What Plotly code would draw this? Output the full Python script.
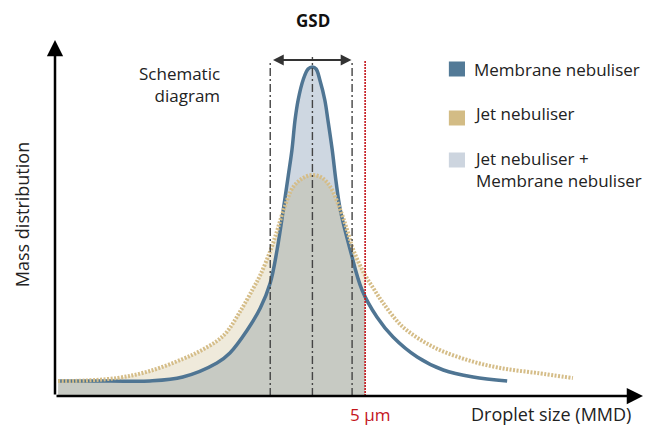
import plotly.graph_objects as go

# ---- data (x in µm, y in arbitrary mass-distribution units) ----
membrane_x = [0.05, 0.89, 1.53, 2.06, 2.61, 2.82, 3.10, 3.31, 3.47, 3.58, 3.68, 3.76, 3.82, 3.87,
              3.92, 4.00, 4.08, 4.15, 4.21, 4.27, 4.35, 4.40, 4.47, 4.53, 4.60, 4.76, 4.95, 5.19,
              5.45, 5.84, 6.26, 6.74, 7.29]
membrane_y = [15, 15, 15, 19, 33, 43, 66, 88, 113, 146, 186, 220, 246, 276,
              296, 316, 327, 329, 327, 316, 296, 276, 246, 215, 186, 146, 106, 79,
              59, 39, 26, 19, 15]

jet_x = [0.05, 0.29, 1.00, 1.53, 2.06, 2.34, 2.61, 2.77, 2.98, 3.19, 3.31, 3.47, 3.58, 3.68,
         3.84, 4.00, 4.16, 4.31, 4.44, 4.60, 4.71, 4.81, 4.98, 5.13, 5.29, 5.61, 6.10, 6.65,
         7.18, 7.77, 8.35]
jet_y = [15, 15, 18, 25, 37, 45, 55, 64, 84, 107, 121, 145, 165, 185,
         209, 218, 221, 218, 209, 186, 166, 146, 123, 108, 93, 69, 49, 36,
         28, 23, 18]

gsd_lines = [3.47, 4.15, 4.79]
limit_um = 5.0
x_max = 9.48
y_max = 356

legend_labels = ["Membrane nebuliser", "Jet nebuliser", "Jet nebuliser +<br>Membrane nebuliser"]
legend_colors = ["#537a97", "#d3bc85", "#cdd5df"]

FONT = "Open Sans"
TXT = "#222222"
FS = 17
SMOOTH = 1.0

fig = go.Figure()

# fills
fig.add_trace(go.Scatter(x=membrane_x, y=membrane_y, mode="none", fill="tozeroy",
                         fillcolor="#ced7e1", line=dict(shape="spline", smoothing=SMOOTH),
                         hoverinfo="skip"))
fig.add_trace(go.Scatter(x=jet_x, y=jet_y, mode="none", fill="tozeroy",
                         fillcolor="rgba(175,150,75,0.2)", line=dict(shape="spline", smoothing=SMOOTH),
                         hoverinfo="skip"))
# white mask: shading only up to the 5 µm limit
fig.add_trace(go.Scatter(x=[limit_um, x_max, x_max, limit_um], y=[0, 0, y_max, y_max],
                         mode="none", fill="toself", fillcolor="white", hoverinfo="skip"))
# lines
fig.add_trace(go.Scatter(x=membrane_x, y=membrane_y, mode="lines",
                         line=dict(color="#4f7593", width=3.5, shape="spline", smoothing=SMOOTH),
                         hoverinfo="skip"))
fig.add_trace(go.Scatter(x=jet_x, y=jet_y, mode="lines",
                         line=dict(color="#d5bd88", width=4, shape="spline", smoothing=SMOOTH,
                                   dash="2px,1.5px"),
                         hoverinfo="skip"))

shapes = []
tops = [336, 339, 336]
for gx, top in zip(gsd_lines, tops):
    shapes.append(dict(type="line", xref="x", yref="y", x0=gx, x1=gx, y0=0, y1=top,
                       line=dict(color="#444444", width=1.4, dash="8px,3px,2px,3px"), layer="above"))
shapes.append(dict(type="line", xref="x", yref="y", x0=limit_um, x1=limit_um, y0=0, y1=336,
                   line=dict(color="#c4161c", width=1.6, dash="2px,1px"), layer="above"))

# legend squares
leg_y = [327, 278, 236]
for yc, col in zip(leg_y, legend_colors):
    shapes.append(dict(type="rect", xref="x", yref="y", x0=6.35, x1=6.61, y0=yc - 7.5, y1=yc + 7.5,
                       fillcolor=col, line=dict(width=0), layer="above"))

annotations = []
# axes arrows
annotations.append(dict(x=x_max, y=0, ax=0, ay=0, xref="x", yref="y", axref="x", ayref="y",
                        showarrow=True, arrowhead=2, arrowsize=1.3, arrowwidth=2.5,
                        arrowcolor="#000000", text="", standoff=0))
annotations.append(dict(x=0, y=y_max, ax=0, ay=0, xref="x", yref="y", axref="x", ayref="y",
                        showarrow=True, arrowhead=2, arrowsize=1.3, arrowwidth=2.5,
                        arrowcolor="#000000", text="", standoff=0))
# GSD double arrow
annotations.append(dict(x=4.78, y=336, ax=3.49, ay=336, xref="x", yref="y", axref="x", ayref="y",
                        showarrow=True, arrowhead=2, arrowside="end+start", arrowsize=1.2,
                        arrowwidth=1.8, arrowcolor="#333333", text="", standoff=0, startstandoff=0))

def paper_text(x, y, text, size, color, angle=0, yanchor="middle"):
    return dict(x=x, y=y, xref="paper", yref="paper", text=text, showarrow=False,
                xanchor="center", yanchor=yanchor, textangle=angle,
                font=dict(family=FONT, size=size, color=color))

annotations.append(paper_text(0.4388, 1.056, "<b>GSD</b>", 17, "#111111"))
annotations.append(paper_text(-0.0561, 0.508, "Mass distribution", 18, TXT, -90))
annotations.append(paper_text(0.8435, -0.0885, "Droplet size (MMD)", 18, TXT, yanchor="bottom"))
annotations.append(paper_text(0.5357, -0.0885, "5 µm", 17, "#c4161c", yanchor="bottom"))
annotations.append(dict(x=2.69, y=312, xref="x", yref="y", text="Schematic<br>diagram",
                        showarrow=False, xanchor="right", align="right",
                        font=dict(family=FONT, size=FS, color=TXT)))

leg_text_y = [327, 283, 227]
for yc, lab in zip(leg_text_y, legend_labels):
    annotations.append(dict(x=6.72, y=yc, xref="x", yref="y", text=lab, showarrow=False,
                            xanchor="left", align="left",
                            font=dict(family=FONT, size=FS, color=TXT)))

fig.update_layout(
    width=656, height=428,
    margin=dict(l=55, r=13, t=40, b=32),
    paper_bgcolor="white", plot_bgcolor="white",
    showlegend=False,
    xaxis=dict(range=[0, x_max], visible=False, fixedrange=True),
    yaxis=dict(range=[0, y_max], visible=False, fixedrange=True),
    shapes=shapes, annotations=annotations,
)

fig.write_html("out.html", config={"displayModeBar": False},
               post_script="document.body.style.margin='0';")
